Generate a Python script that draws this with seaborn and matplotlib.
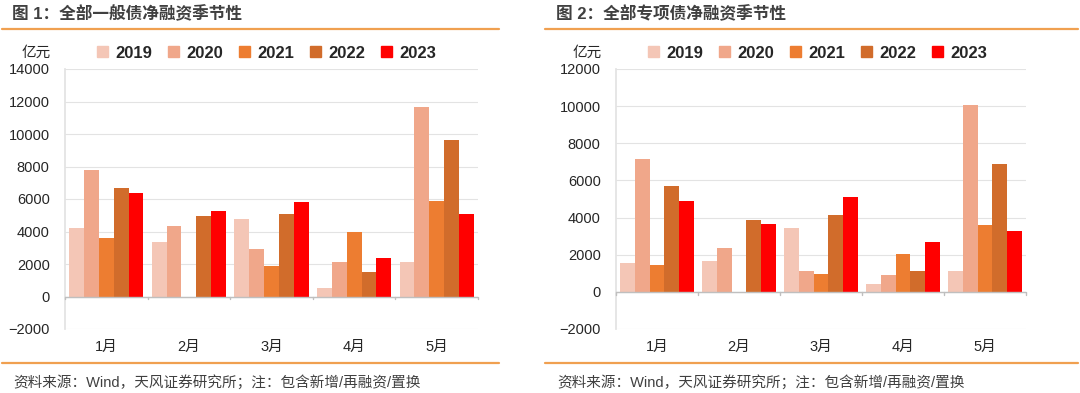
import numpy as np
import pandas as pd
import matplotlib
matplotlib.use("Agg")
import matplotlib.pyplot as plt
import seaborn as sns
from matplotlib.lines import Line2D

sns.set_theme(style="white")
plt.rcParams['font.family'] = ['Liberation Sans', 'Noto Sans CJK SC', 'DejaVu Sans']

months = ["1月", "2月", "3月", "4月", "5月"]
years = ["2019", "2020", "2021", "2022", "2023"]
colors = ["#F4C6B6", "#F0A78A", "#ED7D31", "#D16C2B", "#FF0000"]

# 全部一般债净融资 (亿元)
general = {
    "2019": [4200, 3350, 4750, 550, 2150],
    "2020": [7800, 4350, 2900, 2150, 11650],
    "2021": [3600, -50, 1850, 3950, 5850],
    "2022": [6700, 4950, 5050, 1500, 9650],
    "2023": [6400, 5250, 5800, 2400, 5050],
}
# 全部专项债净融资 (亿元)
special = {
    "2019": [1550, 1650, 3450, 400, 1150],
    "2020": [7150, 2350, 1150, 900, 10050],
    "2021": [1450, -60, 950, 2050, 3600],
    "2022": [5700, 3850, 4150, 1150, 6900],
    "2023": [4900, 3650, 5100, 2700, 3300],
}

titles = ["图 1：全部一般债净融资季节性", "图 2：全部专项债净融资季节性"]
source = "资料来源：Wind，天风证券研究所；注：包含新增/再融资/置换"

W, H = 1080, 393
fig = plt.figure(figsize=(W / 100, H / 100), dpi=100)
orange = "#F0A050"
grey_txt = "#404040"


def px(x0, y0, x1, y1):
    return [x0 / W, 1 - y1 / H, (x1 - x0) / W, (y1 - y0) / H]


panels = [
    (general, (65, 69, 478, 329), (0, 14000), 2, 499, 12),
    (special, (616, 69, 1026, 329), (0, 12000), 545, 1078, 556),
]

for i, (data, box, ylim, lx0, lx1, tx) in enumerate(panels):
    rows = []
    for y in years:
        for m, v in zip(months, data[y]):
            rows.append({"month": m, "year": y, "value": v})
    df = pd.DataFrame(rows)

    ax = fig.add_axes(px(*box))
    sns.barplot(data=df, x="month", y="value", hue="year", palette=colors,
                width=0.9, saturation=1, linewidth=0, ax=ax, legend=False)
    top = ylim[1]
    ax.set_ylim(-2000, top)
    ax.set_yticks(np.arange(-2000, top + 1, 2000))
    ax.set_xlim(-0.5, 4.5)
    ax.set_xlabel("")
    ax.set_ylabel("")
    ax.yaxis.grid(True, color="#E3E3E3", linewidth=0.8)
    ax.set_axisbelow(True)
    for s in ["top", "right", "bottom"]:
        ax.spines[s].set_visible(False)
    ax.spines["left"].set_color("#E3E3E3")
    ax.axhline(0, color="#BFBFBF", linewidth=1, zorder=3)
    for b in np.arange(-0.5, 5, 1):
        ax.plot([b, b], [0, -top * 0.012], color="#BFBFBF", lw=1, zorder=3, clip_on=False)
    ax.tick_params(axis="both", length=0, labelsize=10.5, colors="#262626")
    ax.tick_params(axis="y", pad=11)
    ax.tick_params(axis="x", pad=8)

    # title, rules, source
    fig.text(tx / W, 1 - 14 / H, titles[i], fontsize=12, fontweight="bold",
             color=grey_txt, va="center", ha="left")
    fig.add_artist(Line2D([lx0 / W, lx1 / W], [1 - 29 / H] * 2, color=orange, lw=1.6))
    fig.add_artist(Line2D([lx0 / W, lx1 / W], [1 - 363 / H] * 2, color=orange, lw=1.6))
    fig.text((tx + 1) / W, 1 - 382 / H, source, fontsize=10.5, color=grey_txt,
             va="center", ha="left")

    # unit label + legend
    fig.text((box[0] - 29) / W, 1 - 53 / H, "亿元", fontsize=10.5, color="#262626",
             ha="center", va="center")
    handles = [plt.Rectangle((0, 0), 1, 1, color=c) for c in colors]
    leg_x = box[0] + 32
    fig.legend(handles, years, loc="center left", bbox_to_anchor=(leg_x / W, 1 - 53 / H),
               ncol=5, frameon=False, prop={"weight": "bold", "size": 12},
               handlelength=0.65, handleheight=0.65, handletextpad=0.45, columnspacing=0.95,
               borderaxespad=0, borderpad=0)

fig.savefig("out.png", dpi=100, facecolor="white")
